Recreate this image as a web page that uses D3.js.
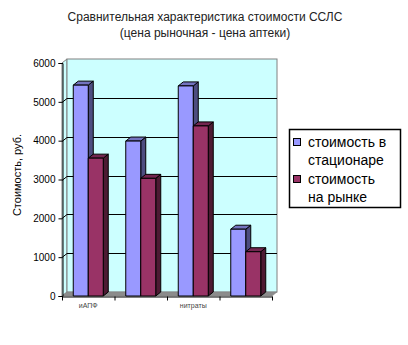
<!DOCTYPE html>
<html>
<head>
<meta charset="utf-8">
<script src="https://cdn.jsdelivr.net/npm/d3@7"></script>
<style>
  html, body { margin: 0; padding: 0; background: #fff; }
  svg text { font-family: Arial, "Liberation Sans", sans-serif; }
</style>
</head>
<body>
<svg id="chart" width="408" height="345"></svg>
<script>
// Drug groups (only every other name is printed on the axis)
const categories = ["иАПФ", "", "нитраты", ""];
const seriesNames = ["стоимость в стационаре", "стоимость на рынке"];
const legendLines = [["стоимость в", "стационаре"], ["стоимость", "на рынке"]];
// Cost, rubles
const hospitalCost = [5430, 3990, 5410, 1720];
const marketCost = [3550, 3030, 4380, 1140];
const yTicks = [0, 1000, 2000, 3000, 4000, 5000, 6000];

const colors = ["#9999FF", "#993366"];
const topColors = ["#7373BF", "#732650"];
const sideColors = ["#4D4D80", "#4D1A33"];

const svg = d3.select("#chart");

// plot frame
const plotLeft = 62, plotRight = 272, plotBottom = 296, plotTop = 63;
const dx = 5, dy = -4; // 3-D depth offset

const y = d3.scaleLinear().domain([0, 6000]).range([plotBottom, plotTop]);
const x0 = d3.scaleBand().domain(d3.range(categories.length)).range([plotLeft, plotRight]).paddingInner(0).paddingOuter(0);
const x1 = d3.scaleBand().domain(d3.range(seriesNames.length)).range([0, x0.bandwidth()]).paddingInner(0).paddingOuter(0.75);

// title
svg.append("text").attr("x", 205).attr("y", 21).attr("text-anchor", "middle")
  .attr("font-size", 12).attr("fill", "#222").text("Сравнительная характеристика стоимости ССЛС");
svg.append("text").attr("x", 205).attr("y", 37).attr("text-anchor", "middle")
  .attr("font-size", 12).attr("fill", "#222").text("(цена рыночная - цена аптеки)");

const walls = svg.append("g");
// left side wall
walls.append("polygon")
  .attr("points", [[plotLeft, plotBottom], [plotLeft + dx, plotBottom + dy], [plotLeft + dx, plotTop + dy], [plotLeft, plotTop]].join(" "))
  .attr("fill", "#CCFFFF").attr("stroke", "#808080").attr("stroke-width", 1);
// back wall
walls.append("rect")
  .attr("x", plotLeft + dx).attr("y", plotTop + dy)
  .attr("width", plotRight - plotLeft).attr("height", plotBottom - plotTop)
  .attr("fill", "#CCFFFF").attr("stroke", "#808080").attr("stroke-width", 1);
// floor
walls.append("polygon")
  .attr("points", [[plotLeft, plotBottom], [plotRight, plotBottom], [plotRight + dx, plotBottom + dy], [plotLeft + dx, plotBottom + dy]].join(" "))
  .attr("fill", "#8C8C8C").attr("stroke", "#808080").attr("stroke-width", 0.5);

// gridlines on side and back walls
const grid = svg.append("g").attr("stroke", "#000").attr("stroke-width", 1).attr("fill", "none");
yTicks.filter(t => t > 0 && t < 6000).forEach(t => {
  const yy = Math.round(y(t)) + 0.5;
  grid.append("path").attr("d", `M${plotLeft},${yy}L${plotLeft + dx},${yy + dy}L${plotRight + dx},${yy + dy}`);
});

// bars
const barsG = svg.append("g");
const seriesData = [hospitalCost, marketCost];
categories.forEach((c, ci) => {
  seriesData.forEach((vals, si) => {
    const v = vals[ci];
    const bx = x0(ci) + x1(si);
    const w = x1.bandwidth();
    const yv = y(v), yBase = y(0);
    const g = barsG.append("g").attr("stroke", "#000").attr("stroke-width", 1).attr("stroke-linejoin", "round");
    g.append("polygon")
      .attr("points", [[bx + w, yv], [bx + w + dx, yv + dy], [bx + w + dx, yBase + dy], [bx + w, yBase]].join(" "))
      .attr("fill", sideColors[si]);
    g.append("polygon")
      .attr("points", [[bx, yv], [bx + dx, yv + dy], [bx + w + dx, yv + dy], [bx + w, yv]].join(" "))
      .attr("fill", topColors[si]);
    g.append("rect").attr("x", bx).attr("y", yv).attr("width", w).attr("height", yBase - yv)
      .attr("fill", colors[si]);
  });
});

// value axis
const yAxis = svg.append("g").attr("transform", `translate(${plotLeft + 0.5},0)`)
  .call(d3.axisLeft(y).tickValues(yTicks).tickSize(4).tickPadding(3).tickFormat(d3.format("d")));
yAxis.select(".domain").attr("stroke", "#000");
yAxis.selectAll(".tick line").attr("stroke", "#000");
yAxis.selectAll("text").attr("font-size", 10).attr("fill", "#000");

// category axis
const xAxis = svg.append("g").attr("transform", `translate(0,${plotBottom + 0.5})`)
  .call(d3.axisBottom(x0).tickSize(0).tickFormat(i => categories[i]).tickPadding(7));
xAxis.select(".domain").attr("stroke", "#000");
xAxis.selectAll("text").attr("font-size", 7).attr("fill", "#444");
// tick marks at category boundaries
xAxis.selectAll(".bound").data(d3.range(categories.length + 1)).enter().append("line")
  .attr("class", "bound")
  .attr("x1", i => plotLeft + i * x0.step() + 0.5).attr("x2", i => plotLeft + i * x0.step() + 0.5)
  .attr("y1", 0).attr("y2", 4).attr("stroke", "#000");

// axis title
svg.append("text").attr("transform", "translate(21,175) rotate(-90)")
  .attr("text-anchor", "middle").attr("font-size", 11).attr("fill", "#000")
  .text("Стоимость, руб.");

// legend
const lg = svg.append("g");
lg.append("rect").attr("x", 289.5).attr("y", 129.5).attr("width", 111).attr("height", 78)
  .attr("fill", "#fff").attr("stroke", "#000").attr("stroke-width", 1.5);
legendLines.forEach((lines, i) => {
  const base = 147 + i * 37;
  lg.append("rect").attr("x", 293.5).attr("y", base - 8.5).attr("width", 7).attr("height", 7)
    .attr("fill", colors[i]).attr("stroke", "#000").attr("stroke-width", 1);
  lines.forEach((t, j) => {
    lg.append("text").attr("x", 308).attr("y", base + j * 18)
      .attr("font-size", 14).attr("fill", "#000").text(t);
  });
});
</script>
</body>
</html>
